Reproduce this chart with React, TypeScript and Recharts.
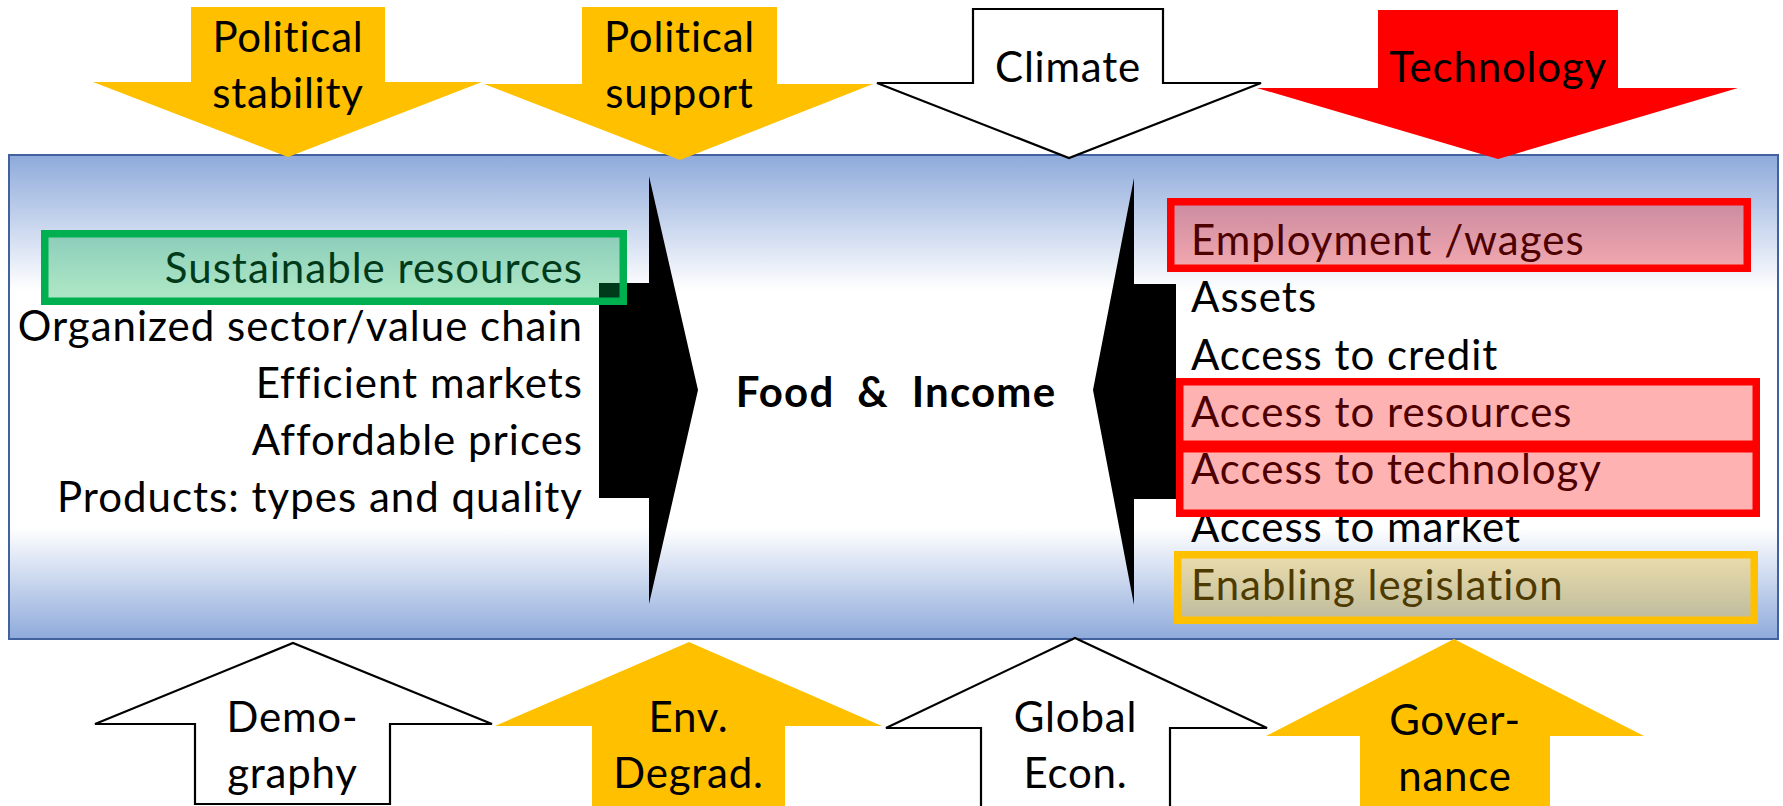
import React from "react";
import { ScatterChart, Scatter, XAxis, YAxis } from "recharts";

const CHART_W = 1783;
const CHART_H = 806;
const X_DOMAIN: [number, number] = [0, 1783];
const Y_DOMAIN: [number, number] = [0, 806];
const KX = CHART_W / (X_DOMAIN[1] - X_DOMAIN[0]);
const KY = CHART_H / (Y_DOMAIN[1] - Y_DOMAIN[0]);
const FONT = "Lato, 'Open Sans', sans-serif";
const FS = 42;
const LS = 0.8;
const LS_BODY = 1.0;

// ---------- data ----------
const panelX = [9, 1778];
const panelY = [155, 639];

// drivers above the panel (pointing down)
const topLabels = [["Political", "stability"], ["Political", "support"], ["Climate"], ["Technology"]];
const topKind = ["gold", "gold", "outline", "red"];
const topTipX = [288, 680, 1069, 1498];
const topTipY = [157, 160, 158, 159];
const topHeadY = [82, 84, 83, 88];
const topHeadL = [93, 484, 877, 1257];
const topHeadR = [482, 873, 1261, 1738];
const topShaftL = [191, 582, 973, 1378];
const topShaftR = [385, 777, 1163, 1618];
const topShaftEnd = [7, 7, 9, 10];
const topLabelY = [52, 52, 82, 82];

// drivers below the panel (pointing up)
const bottomLabels = [["Demo-", "graphy"], ["Env.", "Degrad."], ["Global", "Econ."], ["Gover-", "nance"]];
const bottomKind = ["outline", "gold", "outline", "gold"];
const bottomTipX = [293, 689, 1075, 1454];
const bottomTipY = [643, 642, 638, 639];
const bottomHeadY = [724, 726, 728, 736];
const bottomHeadL = [95, 495, 886, 1266];
const bottomHeadR = [492, 882, 1267, 1644];
const bottomShaftL = [195, 592, 981, 1360];
const bottomShaftR = [390, 785, 1170, 1550];
const bottomShaftEnd = [804, 812, 812, 812];
const bottomLabelY = [732, 732, 732, 735];

// inner arrows toward the centre
const innerTipX = [698, 1093];
const innerTipY = [390, 390];
const innerHeadX = [649, 1134];
const innerHeadTop = [176, 178];
const innerHeadBottom = [604, 605];
const innerShaftEndX = [599, 1176];
const innerShaftTop = [283, 284];
const innerShaftBottom = [498, 499];

// supply side factors (right aligned)
const leftItems = ["Sustainable resources", "Organized sector/value chain", "Efficient markets", "Affordable prices", "Products: types and quality"];
const leftItemX = 583;
const leftItemY = [283, 341, 398, 455, 512];

// household side factors (left aligned)
const rightItems = ["Employment /wages", "Assets", "Access to credit", "Access to resources", "Access to technology", "Access to market", "Enabling legislation"];
const rightItemX = 1191;
const rightItemY = [255, 312, 370, 427, 484, 542, 600];

const centerTitle = "Food  &  Income";
const centerX = 896;
const centerY = 407;

// highlight frames (outer edges)
const hlColor = ["green", "red", "red", "red", "gold"];
const hlX1 = [41, 1167, 1176, 1176, 1174];
const hlX2 = [627, 1751, 1760, 1760, 1758];
const hlY1 = [230, 198, 378, 445, 551];
const hlY2 = [305, 272, 448, 517, 624];

// ---------- records ----------
const palette: Record<string, { fill: string; stroke: string; sw: number }> = {
  gold: { fill: "#ffc000", stroke: "none", sw: 0 },
  red: { fill: "#ff0000", stroke: "none", sw: 0 },
  outline: { fill: "#ffffff", stroke: "#000000", sw: 2.2 },
};

const panelData = [{ x: panelX[0], y: panelY[0], x2: panelX[1], y2: panelY[1] }];

const topArrows = topLabels.map((lab, i) => ({
  x: topTipX[i], y: topTipY[i], kind: topKind[i], lab,
  headY: topHeadY[i], headL: topHeadL[i], headR: topHeadR[i],
  shaftL: topShaftL[i], shaftR: topShaftR[i], shaftEnd: topShaftEnd[i], labelY: topLabelY[i],
}));
const bottomArrows = bottomLabels.map((lab, i) => ({
  x: bottomTipX[i], y: bottomTipY[i], kind: bottomKind[i], lab,
  headY: bottomHeadY[i], headL: bottomHeadL[i], headR: bottomHeadR[i],
  shaftL: bottomShaftL[i], shaftR: bottomShaftR[i], shaftEnd: bottomShaftEnd[i], labelY: bottomLabelY[i],
}));
const innerArrows = innerTipX.map((t, i) => ({
  x: t, y: innerTipY[i], headX: innerHeadX[i], headTop: innerHeadTop[i], headBottom: innerHeadBottom[i],
  shaftEnd: innerShaftEndX[i], shaftTop: innerShaftTop[i], shaftBottom: innerShaftBottom[i],
}));
const leftText = leftItems.map((t, i) => ({ x: leftItemX, y: leftItemY[i], t, anchor: "end", bold: false }));
const rightText = rightItems.map((t, i) => ({ x: rightItemX, y: rightItemY[i], t, anchor: "start", bold: false }));
const titleText = [{ x: centerX, y: centerY, t: centerTitle, anchor: "middle", bold: true }];
const highlights = hlColor.map((c, i) => ({ x: hlX1[i], y: hlY1[i], x2: hlX2[i], y2: hlY2[i], c }));

// ---------- helpers ----------
const mapper = (p: any) => {
  const X = (v: number) => p.cx + (v - p.payload.x) * KX;
  const Y = (v: number) => p.cy + (v - p.payload.y) * KY;
  return { X, Y };
};

const PanelShape = (p: any) => {
  const { X, Y } = mapper(p);
  const d = p.payload;
  return (
    <g>
      <defs>
        <linearGradient id="panelGrad" x1="0" y1="0" x2="0" y2="1">
          <stop offset="0" stopColor="#8eaadb" />
          <stop offset="0.28" stopColor="#ffffff" />
          <stop offset="0.77" stopColor="#ffffff" />
          <stop offset="1" stopColor="#8eaadb" />
        </linearGradient>
      </defs>
      <rect x={X(d.x)} y={Y(d.y)} width={X(d.x2) - X(d.x)} height={Y(d.y2) - Y(d.y)}
        fill="url(#panelGrad)" stroke="#41619f" strokeWidth={2} />
    </g>
  );
};

const InfluenceArrow = (p: any) => {
  const { X, Y } = mapper(p);
  const d = p.payload;
  const st = palette[d.kind];
  const pts = [
    [d.shaftL, d.shaftEnd], [d.shaftR, d.shaftEnd], [d.shaftR, d.headY], [d.headR, d.headY],
    [d.x, d.y], [d.headL, d.headY], [d.shaftL, d.headY],
  ].map(([a, b]) => `${X(a)},${Y(b)}`).join(" ");
  const cxText = X((d.shaftL + d.shaftR) / 2);
  return (
    <g>
      <polygon points={pts} fill={st.fill} stroke={st.stroke} strokeWidth={st.sw} strokeLinejoin="miter" />
      {d.lab.map((line: string, k: number) => (
        <text key={k} x={cxText} y={Y(d.labelY + k * 56)} textAnchor="middle"
          fontFamily={FONT} fontSize={FS} letterSpacing={LS} fill="#000">{line}</text>
      ))}
    </g>
  );
};

const InnerArrow = (p: any) => {
  const { X, Y } = mapper(p);
  const d = p.payload;
  const pts = [
    [d.x, d.y], [d.headX, d.headTop], [d.headX, d.shaftTop], [d.shaftEnd, d.shaftTop],
    [d.shaftEnd, d.shaftBottom], [d.headX, d.shaftBottom], [d.headX, d.headBottom],
  ].map(([a, b]) => `${X(a)},${Y(b)}`).join(" ");
  return <polygon points={pts} fill="#000" />;
};

const TextShape = (p: any) => {
  const d = p.payload;
  return (
    <text x={p.cx} y={p.cy} textAnchor={d.anchor} fontFamily={FONT} fontSize={FS}
      letterSpacing={d.bold ? 1.2 : LS_BODY}
      fontWeight={d.bold ? 700 : 400} fill="#000" style={{ whiteSpace: "pre" }}>{d.t}</text>
  );
};

const HighlightShape = (p: any) => {
  const { X, Y } = mapper(p);
  const d = p.payload;
  const col = d.c === "green" ? "#00b050" : d.c === "red" ? "#ff0000" : "#ffc000";
  const op = d.c === "green" ? 0.33 : 0.3;
  const sw = 7.5;
  const x = X(d.x) + sw / 2, y = Y(d.y) + sw / 2;
  const w = X(d.x2) - X(d.x) - sw, h = Y(d.y2) - Y(d.y) - sw;
  return (
    <g>
      <rect x={x} y={y} width={w} height={h} fill={col} fillOpacity={op} stroke="none" />
      <rect x={x} y={y} width={w} height={h} fill="none" stroke={col} strokeWidth={sw} />
    </g>
  );
};

export default function App() {
  return (
    <div style={{ position: "absolute", left: 0, top: 0, width: CHART_W, height: CHART_H, background: "#fff" }}>
      <ScatterChart width={CHART_W} height={CHART_H} margin={{ top: 0, right: 0, bottom: 0, left: 0 }}>
        <XAxis type="number" dataKey="x" domain={X_DOMAIN} hide allowDataOverflow />
        <YAxis type="number" dataKey="y" domain={Y_DOMAIN} reversed hide allowDataOverflow />
        <Scatter data={panelData} shape={PanelShape} isAnimationActive={false} />
        <Scatter data={innerArrows} shape={InnerArrow} isAnimationActive={false} />
        <Scatter data={leftText} shape={TextShape} isAnimationActive={false} />
        <Scatter data={rightText} shape={TextShape} isAnimationActive={false} />
        <Scatter data={titleText} shape={TextShape} isAnimationActive={false} />
        <Scatter data={highlights} shape={HighlightShape} isAnimationActive={false} />
        <Scatter data={topArrows} shape={InfluenceArrow} isAnimationActive={false} />
        <Scatter data={bottomArrows} shape={InfluenceArrow} isAnimationActive={false} />
      </ScatterChart>
    </div>
  );
}
